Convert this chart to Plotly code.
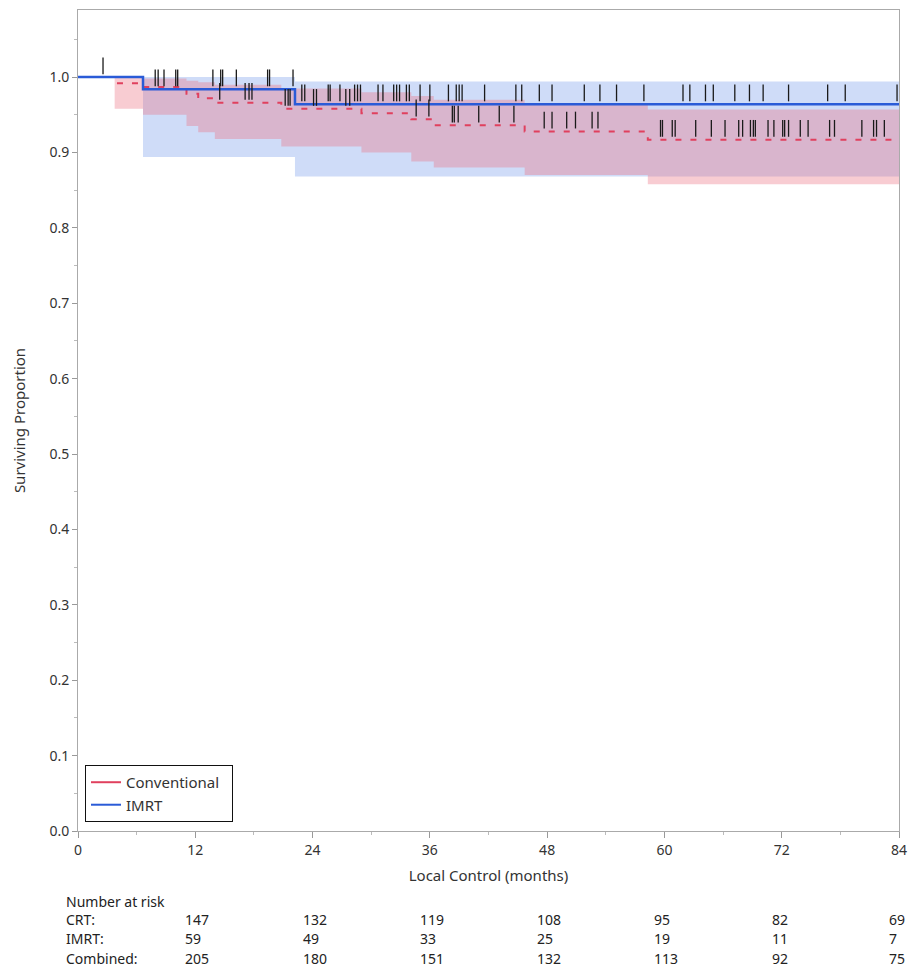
import numpy as np
import plotly.graph_objects as go

# ---------------- data ----------------
followup_end = 84

imrt_times = [0, 6.65, 22.2]
imrt_surv = [1.0, 0.984, 0.964]
imrt_upper = [1.0, 1.0, 0.994]
imrt_lower = [1.0, 0.894, 0.868]

conv_times = [0, 3.75, 6.65, 11.1, 12.3, 14.0, 20.8, 29.0, 34.1, 36.4, 45.7, 58.3]
conv_surv = [1.0, 0.992, 0.987, 0.978, 0.972, 0.966, 0.958, 0.952, 0.944, 0.936, 0.928, 0.917]
conv_upper = [1.0, 1.0, 0.998, 0.995, 0.993, 0.990, 0.985, 0.980, 0.975, 0.970, 0.965, 0.957]
conv_lower = [1.0, 0.958, 0.950, 0.935, 0.927, 0.918, 0.908, 0.900, 0.888, 0.880, 0.870, 0.858]

imrt_censor = [2.56, 7.9, 8.2, 8.8, 10.0, 10.2, 13.8, 14.6, 14.8, 16.2, 19.4, 19.6, 22.0,
               22.9, 23.2, 25.6, 25.8, 26.8, 28.3, 28.6, 28.9, 30.7, 31.2, 32.3, 32.6, 32.9,
               33.6, 33.9, 35.0, 36.0, 37.9, 38.7, 39.0, 39.3, 41.6, 44.8, 45.4, 47.2, 48.5,
               51.8, 53.4, 55.1, 57.9, 61.9, 62.6, 64.2, 65.0, 67.2, 68.7, 70.1, 72.7, 76.7,
               78.5, 83.8]
conv_censor = [14.5, 17.1, 17.5, 17.8, 21.2, 21.5, 21.7, 24.1, 24.4, 27.4, 27.8, 34.6, 35.9,
               38.3, 38.5, 38.9, 41.0, 43.1, 44.6, 47.7, 48.5, 50.0, 50.9, 52.6, 53.2, 59.6,
               59.8, 60.8, 61.1, 63.2, 64.8, 66.2, 67.6, 68.0, 68.8, 69.1, 69.3, 70.6, 71.2,
               72.1, 72.3, 72.7, 73.9, 74.7, 76.9, 77.4, 80.2, 81.4, 81.7, 82.5]

risk_times = [12, 24, 36, 48, 60, 72, 84]
risk_groups = ["CRT:", "IMRT:", "Combined:"]
risk_crt = [147, 132, 119, 108, 95, 82, 69]
risk_imrt = [59, 49, 33, 25, 19, 11, 7]
risk_combined = [205, 180, 151, 132, 113, 92, 75]

x_ticks = [0, 12, 24, 36, 48, 60, 72, 84]
y_ticks = [round(0.1 * i, 1) for i in range(11)]

# ---------------- style ----------------
BLUE = "#2a5bd7"
RED = "#e0405e"
BLUE_FILL = "rgba(110,150,235,0.33)"
RED_FILL = "rgba(235,110,125,0.35)"
FONT = "Noto Sans"
TICK_OFFSET = 0.015


def ext(times, vals):
    return list(times) + [followup_end], list(vals) + [vals[-1]]


def step_at(times, vals, t):
    idx = np.searchsorted(np.array(times), np.array(t), side="right") - 1
    return np.array(vals)[idx]


fig = go.Figure()

# confidence bands
for times, up, lo, fill in [(imrt_times, imrt_upper, imrt_lower, BLUE_FILL),
                            (conv_times, conv_upper, conv_lower, RED_FILL)]:
    xu, yu = ext(times, up)
    xl, yl = ext(times, lo)
    fig.add_trace(go.Scatter(x=xu, y=yu, mode="lines", line=dict(width=0, shape="hv"),
                             showlegend=False, hoverinfo="skip"))
    fig.add_trace(go.Scatter(x=xl, y=yl, mode="lines", line=dict(width=0, shape="hv"),
                             fill="tonexty", fillcolor=fill, showlegend=False, hoverinfo="skip"))

# survival curves
xc, yc = ext(conv_times, conv_surv)
fig.add_trace(go.Scatter(x=xc, y=yc, mode="lines", showlegend=False,
                         line=dict(color=RED, width=2, shape="hv", dash="6px,9px")))
xi, yi = ext(imrt_times, imrt_surv)
fig.add_trace(go.Scatter(x=xi, y=yi, mode="lines", showlegend=False,
                         line=dict(color=BLUE, width=2.5, shape="hv")))

# censor marks
for cens, times, surv in [(imrt_censor, imrt_times, imrt_surv),
                          (conv_censor, conv_times, conv_surv)]:
    cy = step_at(times, surv, cens) + TICK_OFFSET
    fig.add_trace(go.Scatter(x=cens, y=cy, mode="markers", showlegend=False, hoverinfo="skip",
                             marker=dict(symbol="line-ns", size=12,
                                         line=dict(color="#1a1a1a", width=1.3))))

# legend entries
fig.add_trace(go.Scatter(x=[None], y=[None], mode="lines", name="Conventional  ",
                         line=dict(color=RED, width=2)))
fig.add_trace(go.Scatter(x=[None], y=[None], mode="lines", name="IMRT",
                         line=dict(color=BLUE, width=2)))

# number-at-risk table
row_y = [-0.1084, -0.1315, -0.1547]
ann = [dict(text="Number at risk", xref="paper", yref="paper", x=-0.017, y=-0.0853,
            xanchor="left", yanchor="middle", showarrow=False,
            font=dict(size=14, color="#222", family=FONT))]
for label, vals, ry in zip(risk_groups, [risk_crt, risk_imrt, risk_combined], row_y):
    ann.append(dict(text=label, xref="paper", yref="paper", x=-0.017, y=ry,
                    xanchor="left", yanchor="middle", showarrow=False,
                    font=dict(size=14, color="#222", family=FONT)))
    for t, v in zip(risk_times, vals):
        ann.append(dict(text=str(v), xref="x", yref="paper", x=t, y=ry,
                        xanchor="left", yanchor="middle", xshift=-12, showarrow=False,
                        font=dict(size=14, color="#222", family=FONT)))

fig.update_layout(
    width=910, height=970,
    margin=dict(l=78, r=11, t=10, b=139, autoexpand=False),
    paper_bgcolor="white", plot_bgcolor="white",
    font=dict(family=FONT, size=13, color="#333"),
    annotations=ann,
    legend=dict(x=0.0085, y=0.011, xanchor="left", yanchor="bottom",
                bgcolor="white", bordercolor="#111", borderwidth=1,
                font=dict(size=15, color="#333", family=FONT),
                itemwidth=30, tracegroupgap=0, traceorder="normal"),
)
fig.update_xaxes(range=[0, 84], tickvals=x_ticks, ticks="outside", ticklen=6,
                 tickcolor="#999", showline=True, linecolor="#aaa", linewidth=1, mirror=True,
                 showgrid=False, zeroline=False, tickfont=dict(size=14, color="#333"),
                 automargin=False,
                 minor=dict(dtick=6, ticks="outside", ticklen=3, tickcolor="#bbb"),
                 title=dict(text="Local Control (months)", standoff=12,
                            font=dict(size=15, color="#333")))
fig.update_yaxes(range=[0, 1.089], tickvals=y_ticks, tickformat=".1f", ticks="outside",
                 ticklen=5, tickcolor="#999", showline=True, linecolor="#aaa", linewidth=1,
                 mirror=True, showgrid=False, zeroline=False,
                 tickfont=dict(size=14, color="#333"), automargin=False,
                 minor=dict(dtick=0.05, ticks="outside", ticklen=3, tickcolor="#bbb"),
                 title=dict(text="Surviving Proportion", standoff=20,
                            font=dict(size=15, color="#333")))

fig.write_html("out.html", config={"displayModeBar": False},
               post_script="document.body.style.margin='0';document.body.style.padding='0';")
